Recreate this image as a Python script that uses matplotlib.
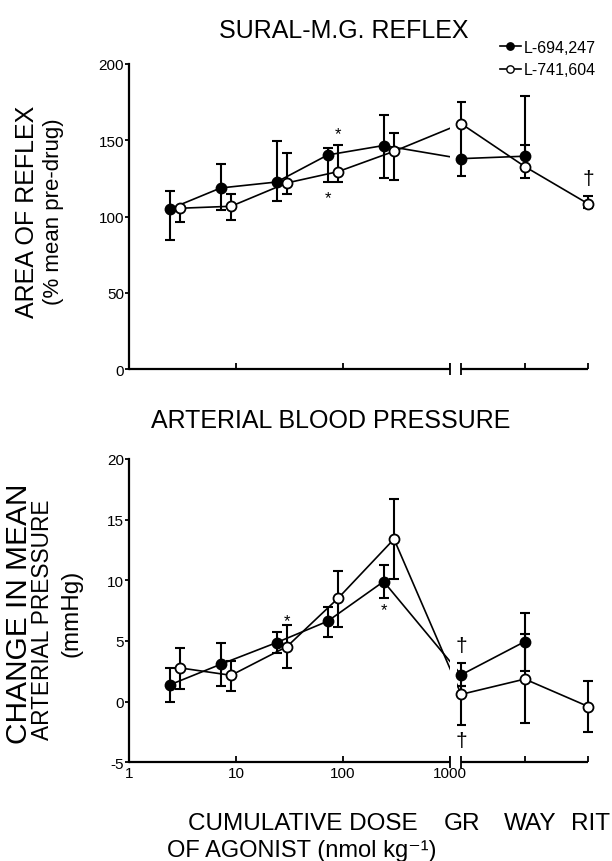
import numpy as np
import matplotlib
matplotlib.use('Agg')
import matplotlib.pyplot as plt
from matplotlib.transforms import blended_transform_factory

plt.rcParams['font.family'] = ['Liberation Sans', 'DejaVu Sans']

# ---------------- data ----------------
dose_694 = [2.4, 7.2, 24, 72, 240]          # nmol/kg, L-694,247
dose_741 = [3, 9, 30, 90, 300]              # nmol/kg, L-741,604
antagonists = ['GR', 'WAY', 'RIT']
dose_ticks = [1, 10, 100, 1000]

# Reflex area (% mean pre-drug): mean, lower and upper end of bar
reflex_694 = [105.0, 118.8, 122.7, 140.4, 146.6]
reflex_694_lo = [85.0, 104.4, 110.5, 122.5, 125.4]
reflex_694_hi = [117.0, 134.5, 149.6, 145.0, 166.3]
reflex_741 = [105.5, 106.8, 122.1, 129.5, 142.8]
reflex_741_lo = [96.3, 98.0, 114.9, 122.5, 124.3]
reflex_741_hi = [105.5, 114.9, 141.7, 147.2, 154.9]
reflex_694_ant = [138.0, 139.6, np.nan]
reflex_694_ant_lo = [126.9, 139.6, np.nan]
reflex_694_ant_hi = [138.0, 179.3, np.nan]
reflex_741_ant = [160.9, 132.8, 108.3]
reflex_741_ant_lo = [138.0, 125.2, 105.5]
reflex_741_ant_hi = [175.4, 146.7, 113.8]

# Change in mean arterial pressure (mmHg)
bp_694 = [1.38, 3.08, 4.87, 6.63, 9.90]
bp_694_lo = [-0.05, 1.32, 3.99, 5.31, 8.55]
bp_694_hi = [2.75, 4.81, 5.74, 7.83, 11.25]
bp_741 = [2.78, 2.17, 4.54, 8.52, 13.40]
bp_741_lo = [1.05, 0.88, 2.75, 6.18, 10.10]
bp_741_hi = [4.45, 3.38, 6.32, 10.80, 16.70]
bp_694_ant = [2.21, 4.95, np.nan]
bp_694_ant_lo = [1.26, 2.49, np.nan]
bp_694_ant_hi = [3.20, 7.32, np.nan]
bp_741_ant = [0.60, 1.86, -0.41]
bp_741_ant_lo = [-1.89, -1.80, -2.52]
bp_741_ant_hi = [1.30, 5.55, 1.73]

series_labels = ['L-694,247', 'L-741,604']

# ---------------- layout ----------------
W, H = 612, 862
fig = plt.figure(figsize=(W / 100, H / 100), dpi=100)

def fx(px):
    return px / W

def fy(py):
    return 1 - py / H

X0, X1 = 129.0, 589.0          # pixel extent of x axis
XMAX = 4.30                    # log10 units across axis
ant_pos = [3.105, 3.70, 4.295]  # positions of antagonist categories
BREAK = 3.0

ax1 = fig.add_axes([fx(X0), fy(370.3), fx(X1) - fx(X0), (370.3 - 65) / H])
ax2 = fig.add_axes([fx(X0), fy(763.3), fx(X1) - fx(X0), (763.3 - 460) / H])

def draw_panel(ax, ylim, yticks, s1, s1lo, s1hi, s2, s2lo, s2hi,
               a1, a1lo, a1hi, a2, a2lo, a2hi, ticklabels):
    x1 = np.concatenate([np.log10(dose_694), ant_pos])
    x2 = np.concatenate([np.log10(dose_741), ant_pos])
    y1 = np.concatenate([s1, a1]); y1lo = np.concatenate([s1lo, a1lo]); y1hi = np.concatenate([s1hi, a1hi])
    y2 = np.concatenate([s2, a2]); y2lo = np.concatenate([s2lo, a2lo]); y2hi = np.concatenate([s2hi, a2hi])
    for x, y, lo, hi, fc in [(x1, y1, y1lo, y1hi, 'black'), (x2, y2, y2lo, y2hi, 'white')]:
        ax.plot(x, y, color='black', lw=1.2, zorder=2)
        m = ~np.isnan(y)
        eb = ax.errorbar(x[m], y[m], yerr=[y[m] - lo[m], hi[m] - y[m]], fmt='none',
                         ecolor='black', elinewidth=1.5, capsize=3.6, capthick=1.5, zorder=2)
        for art in eb.lines[1] + eb.lines[2]:
            art.set_clip_on(False)
        ax.plot(x, y, linestyle='none', marker='o', markersize=7.2, mfc=fc,
                mec='black', mew=1.3, zorder=4, clip_on=False)
    # break gap
    ax.axvspan(BREAK, 3.07, color='white', zorder=3, lw=0)
    ax.set_xlim(0, XMAX)
    ax.set_ylim(*ylim)
    ax.set_yticks(yticks)
    ax.set_yticklabels([str(t) for t in yticks])
    for s in ['top', 'right', 'bottom']:
        ax.spines[s].set_visible(False)
    ax.spines['left'].set_linewidth(1.6)
    ax.tick_params(axis='y', direction='out', length=3, width=1.3, pad=0.5, labelsize=11)
    xt = list(np.log10(dose_ticks)) + ant_pos[1:]
    ax.set_xticks(xt)
    ax.set_xticklabels(ticklabels + [''] * (len(xt) - len(ticklabels)))
    ax.tick_params(axis='x', direction='in', length=4, width=1.3, pad=3, labelsize=11)
    tr = ax.get_xaxis_transform()
    ax.plot([0, BREAK], [0, 0], color='black', lw=1.6, transform=tr, clip_on=False, zorder=5,
            solid_capstyle='butt')
    ax.plot([ant_pos[0], ant_pos[-1]], [0, 0], color='black', lw=1.6, transform=tr,
            clip_on=False, zorder=5, solid_capstyle='butt')
    ax.plot([BREAK, ant_pos[0]], [0, 0], linestyle='none', marker='|', markersize=8,
            mew=1.3, color='black', transform=tr, clip_on=False, zorder=5)
    ax.patch.set_visible(False)

draw_panel(ax1, (0, 200), [0, 50, 100, 150, 200],
           reflex_694, reflex_694_lo, reflex_694_hi,
           reflex_741, reflex_741_lo, reflex_741_hi,
           reflex_694_ant, reflex_694_ant_lo, reflex_694_ant_hi,
           reflex_741_ant, reflex_741_ant_lo, reflex_741_ant_hi, [])
draw_panel(ax2, (-5, 20), [-5, 0, 5, 10, 15, 20],
           bp_694, bp_694_lo, bp_694_hi,
           bp_741, bp_741_lo, bp_741_hi,
           bp_694_ant, bp_694_ant_lo, bp_694_ant_hi,
           bp_741_ant, bp_741_ant_lo, bp_741_ant_hi,
           [str(d) for d in dose_ticks])

# significance marks
def mark(ax, x, y, sym, dy, size):
    ax.annotate(sym, (x, y), xytext=(0, dy), textcoords='offset pixels',
                ha='center', va='center', fontsize=size, zorder=6, annotation_clip=False)

mark(ax1, np.log10(dose_741[3]), reflex_741_hi[3], '*', 11, 12)
mark(ax1, np.log10(dose_694[3]), reflex_694_lo[3], '*', -15, 12)
mark(ax1, ant_pos[2], reflex_741_ant_hi[2], '†', 17, 15)
mark(ax2, np.log10(dose_741[2]), bp_741_hi[2], '*', 4, 12)
mark(ax2, np.log10(dose_694[4]), bp_694_lo[4], '*', -12, 12)
mark(ax2, ant_pos[0], bp_694_ant_hi[0], '†', 17, 15)
mark(ax2, ant_pos[0], bp_741_ant_lo[0], '†', -16, 15)

# legend
h1, = ax1.plot([], [], color='black', lw=1.2, marker='o', markersize=5.3, mfc='black', mec='black')
h2, = ax1.plot([], [], color='black', lw=1.2, marker='o', markersize=5.3, mfc='white', mec='black')
fig.legend([h1, h2], series_labels, loc='upper right', bbox_to_anchor=(fx(596), fy(41)),
           frameon=False, fontsize=11.5, handlelength=1.3, handletextpad=0.2,
           labelspacing=0.45, borderpad=0, borderaxespad=0)

# titles
fig.text(fx(344), fy(31), 'SURAL-M.G. REFLEX', ha='center', va='center', fontsize=18)
fig.text(fx(331), fy(421), 'ARTERIAL BLOOD PRESSURE', ha='center', va='center', fontsize=18)

# y labels
fig.text(fx(27), fy(212), 'AREA OF REFLEX', rotation=90, ha='center', va='center', fontsize=18)
fig.text(fx(54), fy(212), '(% mean pre-drug)', rotation=90, ha='center', va='center', fontsize=16)
fig.text(fx(19.5), fy(614), 'CHANGE IN MEAN', rotation=90, ha='center', va='center', fontsize=21.5)
fig.text(fx(43), fy(620), 'ARTERIAL PRESSURE', rotation=90, ha='center', va='center', fontsize=16.3)
fig.text(fx(71), fy(613), '(mmHg)', rotation=90, ha='center', va='center', fontsize=17.5)

# x labels
fig.text(fx(188), fy(830), 'CUMULATIVE DOSE', ha='left', va='baseline', fontsize=17.5)
fig.text(fx(167), fy(857), 'OF AGONIST (nmol kg\u207b\u00b9)', ha='left',
         va='baseline', fontsize=17)
btr = blended_transform_factory(ax2.transData, fig.transFigure)
for pos, lab, off in zip(ant_pos, antagonists, [0.01, 0.05, 0.02]):
    ax2.text(pos + off, fy(830), lab, transform=btr, ha='center', va='baseline', fontsize=17.5)

fig.savefig('out.png', dpi=100)
